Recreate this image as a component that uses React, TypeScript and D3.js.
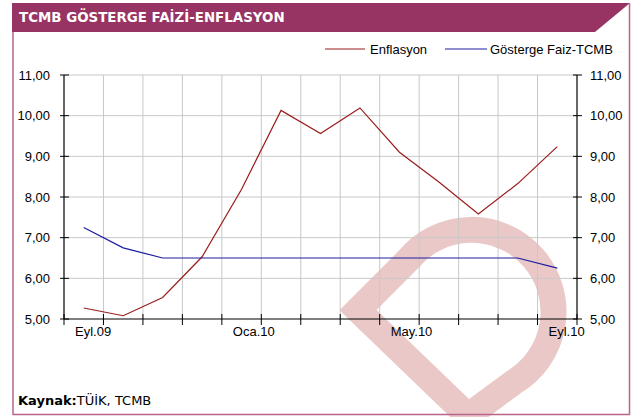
import React from "react";
import * as d3 from "d3";

// aylar (Eyl.09 - Eyl.10)
const months = ["Eyl.09", "Eki.09", "Kas.09", "Ara.09", "Oca.10", "Şub.10", "Mar.10", "Nis.10", "May.10", "Haz.10", "Tem.10", "Ağu.10", "Eyl.10"];
const labelMonths = ["Eyl.09", "Oca.10", "May.10", "Eyl.10"];
const enflasyon = [5.27, 5.08, 5.53, 6.53, 8.19, 10.13, 9.56, 10.19, 9.10, 8.37, 7.58, 8.33, 9.24];
const faiz = [7.25, 6.75, 6.5, 6.5, 6.5, 6.5, 6.5, 6.5, 6.5, 6.5, 6.5, 6.5, 6.25];
const yTicks = [5, 6, 7, 8, 9, 10, 11];

const W = 640;
const H = 417;
const margin = { top: 75, right: 63, bottom: 98, left: 64 };

export default function App() {
    const x = d3.scaleBand<string>()
        .domain(months)
        .range([margin.left, W - margin.right])
        .padding(0);

    const y = d3.scaleLinear()
        .domain([5, 11])
        .range([H - margin.bottom, margin.top]);

    const line = d3.line<number>()
        .x((d, i) => (x(months[i]) as number) + x.bandwidth() / 2)
        .y(d => y(d));

    const fmt = (v: number) => d3.format(".2f")(v).replace(".", ",");

    // band boundaries for ticks and grid
    const bounds = months.map(m => x(m) as number).concat([W - margin.right]);

    const x0 = margin.left;
    const x1 = W - margin.right;
    const y0 = H - margin.bottom;
    const font = "'Liberation Sans', Arial, sans-serif";

    return (
        <svg width={W} height={H} style={{ position: "absolute", left: 0, top: 0, background: "#fff" }}>
            {/* title bar */}
            <polygon points="12,3 630,3 595,32 12,32" fill="#983463" />
            <text x={19} y={22} fill="#fff" fontFamily="'DejaVu Sans', Verdana, sans-serif" fontWeight="bold" fontSize={13.4}>
                TCMB GÖSTERGE FAİZİ-ENFLASYON
            </text>

            {/* watermark */}
            <path d="M468,416 L358,310 L408,260 A82,82 0 1 1 514,382 Z" fill="none" stroke="#ebc8c8" strokeWidth={26} strokeLinejoin="miter" />

            {/* frame */}
            <line x1={13} y1={32} x2={13} y2={415} stroke="#b8648c" strokeWidth={1.5} />
            <line x1={629.5} y1={3} x2={629.5} y2={415} stroke="#b8648c" strokeWidth={1.5} />
            <line x1={13} y1={414.5} x2={630} y2={414.5} stroke="#b8648c" strokeWidth={1.5} />

            {/* grid */}
            {yTicks.slice(1).map(t => (
                <line key={"gy" + t} x1={x0} x2={x1} y1={y(t)} y2={y(t)} stroke="#c8c8c8" strokeWidth={1} />
            ))}
            {bounds.slice(1, -1).map((b, i) => (
                <line key={"gx" + i} x1={b} x2={b} y1={margin.top} y2={y0} stroke="#c8c8c8" strokeWidth={1} />
            ))}

            {/* series */}
            <path d={line(enflasyon) as string} fill="none" stroke="#9b1c1c" strokeWidth={1.2} />
            <path d={line(faiz) as string} fill="none" stroke="#1c1ca0" strokeWidth={1.2} />

            {/* axes */}
            <line x1={x0} x2={x0} y1={margin.top} y2={y0} stroke="#333" strokeWidth={1.5} />
            <line x1={x1} x2={x1} y1={margin.top} y2={y0} stroke="#000" strokeWidth={1.2} />
            <line x1={x0} x2={x1} y1={y0} y2={y0} stroke="#000" strokeWidth={1.2} />
            {yTicks.map(t => (
                <g key={"yt" + t}>
                    <line x1={x0 - 4} x2={x0 + 5} y1={y(t)} y2={y(t)} stroke="#000" />
                    <line x1={x1 - 4} x2={x1 + 5} y1={y(t)} y2={y(t)} stroke="#000" />
                    <text x={50} y={y(t)} dy="0.35em" textAnchor="end" fontFamily={font} fontSize={13} fill="#000">{fmt(t)}</text>
                    <text x={590} y={y(t)} dy="0.35em" textAnchor="start" fontFamily={font} fontSize={13} fill="#000">{fmt(t)}</text>
                </g>
            ))}
            {bounds.map((b, i) => (
                <line key={"xt" + i} x1={b} x2={b} y1={y0 - 5} y2={y0 + 6} stroke="#000" />
            ))}
            {labelMonths.map(m => (
                <text key={m} x={(x(m) as number) + 11} y={336} fontFamily={font} fontSize={13} fill="#000">{m}</text>
            ))}

            {/* legend */}
            <line x1={325} x2={365} y1={49} y2={49} stroke="#9b1c1c" strokeWidth={1.2} />
            <text x={370} y={49} dy="0.35em" fontFamily={font} fontSize={13} fill="#000">Enflasyon</text>
            <line x1={445} x2={487} y1={49} y2={49} stroke="#1c1ca0" strokeWidth={1.2} />
            <text x={490} y={49} dy="0.35em" fontFamily={font} fontSize={13} fill="#000">Gösterge Faiz-TCMB</text>

            {/* source */}
            <text x={18} y={405} fontFamily="'DejaVu Sans', Verdana, sans-serif" fontSize={13} fill="#000">
                <tspan fontWeight="bold">Kaynak:</tspan>TÜİK, TCMB
            </text>
        </svg>
    );
}
